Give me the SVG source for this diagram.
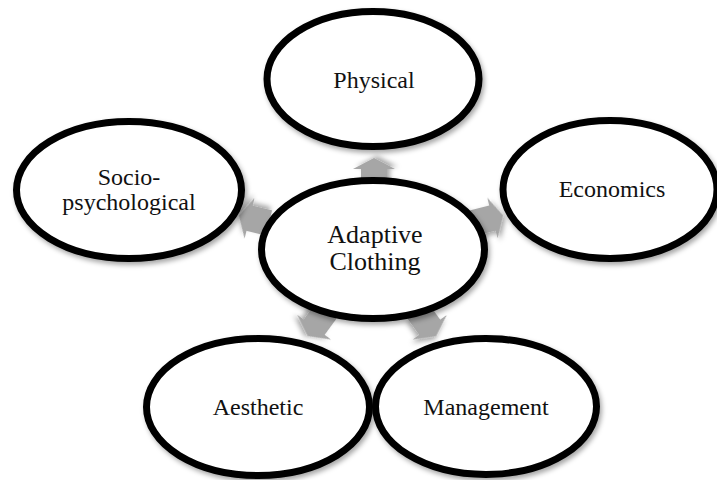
<svg xmlns="http://www.w3.org/2000/svg" width="717" height="480" viewBox="0 0 717 480">
  <defs>
    <filter id="soft" x="-20%" y="-20%" width="140%" height="150%">
      <feDropShadow dx="2" dy="3" stdDeviation="2.5" flood-color="#000" flood-opacity="0.35"/>
    </filter>
    <!-- block arrow pointing along +x, tail at origin -->
    <path id="blockArrow" d="M0,-13 H20 V-21 L31,0 L20,21 V13 H0 Z"/>
  </defs>
  <style>
    .node ellipse { fill: #fff; stroke: #000; stroke-width: 7; filter: url(#soft); }
    .node text { font-family: 'Liberation Serif', 'Times New Roman', serif; font-size: 24px; fill: #111; text-anchor: middle; }
    #center text { font-size: 26px; }
    .arrows use { fill: #a6a6a6; filter: url(#soft); }
  </style>
  <rect width="717" height="480" fill="#fff"/>

  <g id="connectors" class="arrows">
    <use href="#blockArrow" transform="translate(374,189) rotate(-90)"/>
    <use href="#blockArrow" transform="translate(269,223) rotate(-166.2)"/>
    <use href="#blockArrow" transform="translate(473,223) rotate(-14.2)"/>
    <use href="#blockArrow" transform="translate(326,311) rotate(126.2)"/>
    <use href="#blockArrow" transform="translate(418,311) rotate(54.3)"/>
  </g>

  <g id="physical" class="node">
    <ellipse cx="373" cy="79" rx="106" ry="67.5"/>
    <text x="374" y="88">Physical</text>
  </g>
  <g id="socio" class="node">
    <ellipse cx="129" cy="190" rx="112.5" ry="68.5"/>
    <text x="129" y="185">Socio-</text>
    <text x="129" y="210">psychological</text>
  </g>
  <g id="economics" class="node">
    <ellipse cx="610" cy="189.5" rx="107" ry="69"/>
    <text x="612" y="197">Economics</text>
  </g>
  <g id="aesthetic" class="node">
    <ellipse cx="258" cy="407" rx="111.5" ry="68.5"/>
    <text x="258" y="415">Aesthetic</text>
  </g>
  <g id="management" class="node">
    <ellipse cx="486" cy="406.5" rx="110.5" ry="68"/>
    <text x="486" y="415">Management</text>
  </g>
  <g id="center" class="node">
    <ellipse cx="373" cy="249.5" rx="111.5" ry="69"/>
    <text x="375" y="243">Adaptive</text>
    <text x="375" y="270">Clothing</text>
  </g>
</svg>
